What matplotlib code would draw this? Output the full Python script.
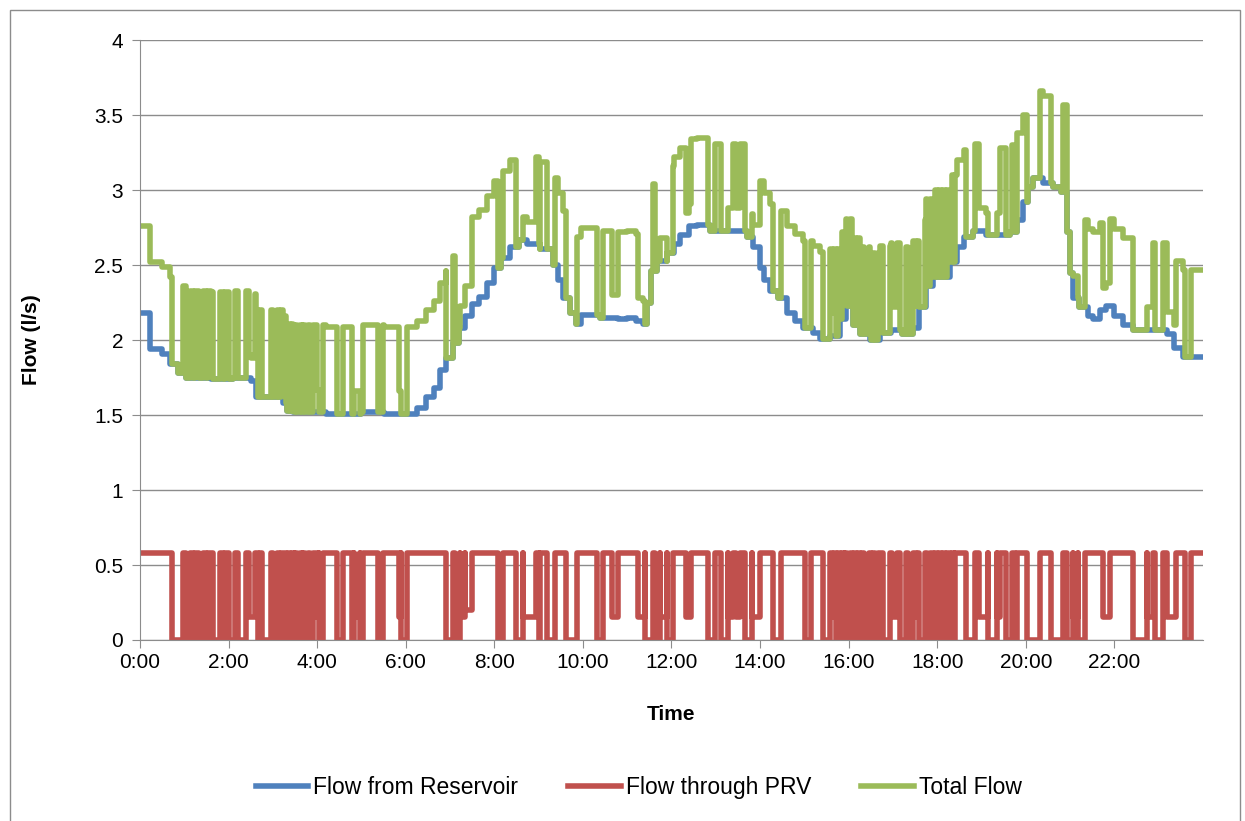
import numpy as np
import matplotlib
matplotlib.use("Agg")
from matplotlib import pyplot as plt
from matplotlib.patches import Rectangle

plt.rcParams['font.family'] = ['Liberation Sans', 'DejaVu Sans']

# flow from reservoir (l/s), value holds from each time (hours) to the next
res_hours = [0.00, 0.23, 0.50, 0.68, 0.85, 1.05, 1.60, 2.10, 2.50, 2.63,
             3.24, 3.31, 3.46, 4.20, 5.00, 5.50, 6.25, 6.45, 6.65, 6.77,
             6.90, 7.07, 7.20, 7.35, 7.50, 7.65, 7.83, 8.00, 8.15, 8.35,
             8.55, 8.75, 9.03, 9.33, 9.45, 9.56, 9.70, 9.85, 9.95, 10.38,
             10.80, 11.00, 11.20, 11.35, 11.44, 11.55, 11.67, 11.90, 12.05, 12.20,
             12.40, 12.57, 12.87, 13.70, 13.85, 14.00, 14.10, 14.22, 14.40, 14.60,
             14.80, 14.97, 15.20, 15.35, 15.58, 15.80, 15.95, 16.10, 16.25, 16.48,
             16.70, 16.95, 17.20, 17.45, 17.60, 17.75, 17.91, 18.28, 18.45, 18.60,
             18.80, 19.10, 19.64, 19.80, 19.94, 20.05, 20.17, 20.40, 20.62, 20.80,
             20.92, 21.00, 21.07, 21.20, 21.40, 21.52, 21.67, 21.82, 22.00, 22.20,
             22.42, 23.18, 23.35, 23.55]
res_flow = [2.18, 1.94, 1.91, 1.84, 1.78, 1.75, 1.74, 1.75, 1.73, 1.62,
            1.58, 1.53, 1.52, 1.51, 1.52, 1.51, 1.55, 1.62, 1.68, 1.80,
            1.88, 1.98, 2.08, 2.16, 2.24, 2.29, 2.38, 2.48, 2.55, 2.62,
            2.67, 2.64, 2.61, 2.50, 2.40, 2.28, 2.18, 2.11, 2.17, 2.15,
            2.14, 2.15, 2.13, 2.11, 2.25, 2.46, 2.53, 2.58, 2.64, 2.70,
            2.76, 2.77, 2.73, 2.69, 2.62, 2.48, 2.40, 2.33, 2.28, 2.18,
            2.13, 2.08, 2.05, 2.01, 2.03, 2.14, 2.23, 2.10, 2.04, 2.00,
            2.05, 2.07, 2.04, 2.08, 2.22, 2.36, 2.42, 2.52, 2.62, 2.69,
            2.73, 2.70, 2.72, 2.80, 2.92, 3.02, 3.08, 3.05, 3.02, 2.99,
            2.72, 2.45, 2.28, 2.22, 2.16, 2.14, 2.20, 2.23, 2.16, 2.10,
            2.07, 2.04, 1.95, 1.89]

# PRV runs at full flow except during these periods
PRV_FULL = 0.58
prv_off_start = [0.72, 1.04, 1.20, 1.33, 1.49, 1.64, 1.87, 2.02, 2.22, 2.47,
                 2.66, 2.75, 3.00, 3.14, 3.30, 3.39, 3.47, 3.55, 3.65, 3.73,
                 3.84, 3.99, 4.05, 4.44, 4.78, 4.84, 4.96, 5.38, 5.84, 5.90,
                 6.92, 7.11, 7.22, 7.35, 8.09, 8.49, 8.64, 9.00, 9.18, 9.63,
                 10.31, 10.65, 11.25, 11.40, 11.63, 11.74, 11.89, 12.34, 12.83, 13.13,
                 13.28, 13.45, 13.66, 13.81, 14.30, 15.01, 15.43, 15.63, 15.72, 15.80,
                 15.89, 15.97, 16.08, 16.16, 16.26, 16.34, 16.50, 16.60, 16.78, 16.98,
                 17.16, 17.35, 17.52, 17.60, 17.78, 17.91, 18.00, 18.09, 18.18, 18.28,
                 18.37, 18.66, 18.95, 19.15, 19.34, 19.56, 19.76, 20.02, 20.58, 20.92,
                 21.07, 21.18, 21.75, 22.42, 22.73, 22.92, 23.18, 23.59]
prv_off_end = [0.98, 1.14, 1.25, 1.42, 1.53, 1.80, 1.91, 2.14, 2.40, 2.60,
               2.70, 2.95, 3.09, 3.18, 3.35, 3.43, 3.51, 3.61, 3.69, 3.79,
               3.91, 4.05, 4.14, 4.59, 4.84, 4.96, 5.04, 5.49, 5.90, 6.02,
               7.07, 7.22, 7.35, 7.49, 8.20, 8.64, 8.95, 9.04, 9.37, 9.86,
               10.46, 10.80, 11.40, 11.59, 11.74, 11.89, 12.04, 12.45, 12.98, 13.28,
               13.40, 13.54, 13.81, 14.00, 14.48, 15.16, 15.58, 15.68, 15.76, 15.85,
               15.93, 16.04, 16.12, 16.22, 16.30, 16.45, 16.55, 16.67, 16.93, 17.10,
               17.30, 17.46, 17.57, 17.72, 17.84, 17.95, 18.05, 18.13, 18.23, 18.33,
               18.40, 18.85, 19.15, 19.34, 19.41, 19.70, 19.80, 20.32, 20.84, 21.07,
               21.18, 21.33, 21.90, 22.73, 22.88, 23.10, 23.40, 23.74]
prv_off_level = [0, 0, 0, 0, 0, 0, 0, 0, 0, 0.15,
                 0, 0, 0, 0, 0, 0, 0, 0, 0, 0,
                 0, 0.15, 0, 0, 0, 0.15, 0, 0, 0.15, 0,
                 0, 0, 0.15, 0.2, 0, 0, 0.15, 0, 0, 0,
                 0, 0.15, 0.15, 0, 0, 0.15, 0, 0.15, 0, 0,
                 0.15, 0.15, 0, 0.15, 0, 0, 0, 0.15, 0, 0,
                 0.15, 0, 0, 0, 0, 0, 0, 0, 0, 0.15,
                 0, 0, 0.15, 0, 0, 0, 0, 0, 0, 0,
                 0, 0, 0.15, 0, 0.15, 0, 0, 0, 0, 0,
                 0.15, 0, 0.15, 0, 0.15, 0, 0.15, 0]

# turn the PRV periods into a step series
prv_hours = [0.0]
prv_flow = [PRV_FULL]
for s, e, lv in zip(prv_off_start, prv_off_end, prv_off_level):
    prv_hours += [s, e]
    prv_flow += [lv, PRV_FULL]
prv_hours = np.array(prv_hours)
prv_flow = np.array(prv_flow)
res_hours = np.array(res_hours)
res_flow = np.array(res_flow)

def step_value(t, v, q):
    return v[np.searchsorted(t, q, side='right') - 1]

END = 24.0
tot_hours = np.union1d(res_hours, prv_hours)
tot_flow = step_value(res_hours, res_flow, tot_hours) + step_value(prv_hours, prv_flow, tot_hours)

blue, red, green = '#4F81BD', '#C0504D', '#9BBB59'

fig = plt.figure(figsize=(12.45, 8.21), dpi=100)
ax = fig.add_axes([0.1124, 0.2205, 0.8538, 0.7305])

lw = 4.0
ax.plot(np.append(res_hours, END), np.append(res_flow, res_flow[-1]), color=blue,
        lw=lw, drawstyle='steps-post', label='Flow from Reservoir')
ax.plot(np.append(prv_hours, END), np.append(prv_flow, prv_flow[-1]), color=red,
        lw=lw, drawstyle='steps-post', label='Flow through PRV')
ax.plot(np.append(tot_hours, END), np.append(tot_flow, tot_flow[-1]), color=green,
        lw=lw, drawstyle='steps-post', label='Total Flow')

ax.set_xlim(0, 24)
ax.set_ylim(0, 4)
ax.set_xticks(np.arange(0, 24, 2))
ax.set_xticklabels(['%d:00' % h for h in range(0, 24, 2)])
ax.set_yticks(np.arange(0, 4.01, 0.5))
ax.set_yticklabels(['0', '0.5', '1', '1.5', '2', '2.5', '3', '3.5', '4'])
ax.grid(axis='y', color='#8c8c8c', lw=1)
ax.set_axisbelow(True)
for side in ['top', 'right']:
    ax.spines[side].set_visible(False)
for side in ['left', 'bottom']:
    ax.spines[side].set_color('#8c8c8c')
ax.tick_params(axis='both', colors='#8c8c8c', labelcolor='black', labelsize=15, length=6)
ax.tick_params(axis='y', pad=6)
ax.set_xlabel('Time', fontsize=15, fontweight='bold', labelpad=24)
ax.set_ylabel('Flow (l/s)', fontsize=15, fontweight='bold', labelpad=38)

fig.legend(loc='center', bbox_to_anchor=(0.513, 0.041), ncol=3, frameon=False,
           fontsize=16.5, handlelength=2.3, columnspacing=2.2, handletextpad=0.2)

fig.patches.append(Rectangle((10 / 1245, -0.01), 1230 / 1245, 1.0 - 10 / 821 + 0.01,
                             transform=fig.transFigure, fill=False, edgecolor='#8c8c8c', lw=1))

fig.savefig('out.png', dpi=100)
